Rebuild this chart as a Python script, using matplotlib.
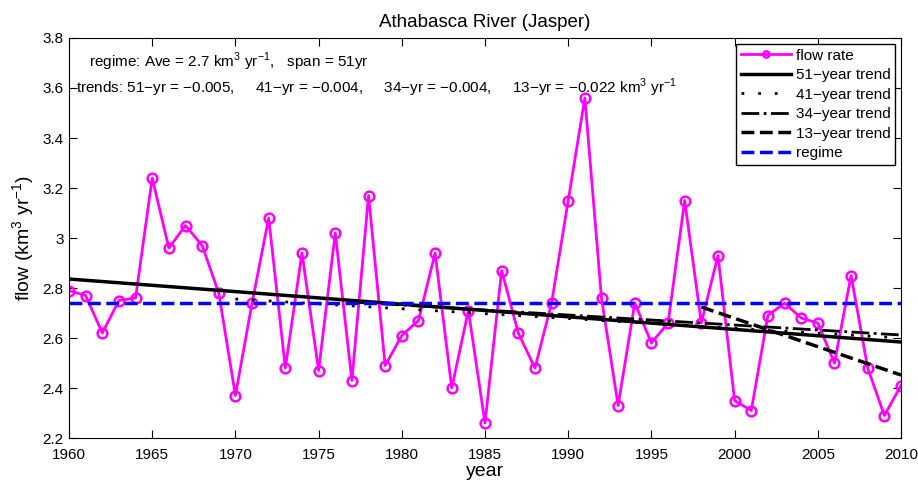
import numpy as np
import matplotlib.pyplot as plt
from matplotlib.ticker import FormatStrFormatter

plt.rcParams['font.family'] = ['Liberation Sans', 'DejaVu Sans']
plt.rcParams['mathtext.fontset'] = 'custom'
plt.rcParams['mathtext.rm'] = 'Liberation Sans'

years = np.arange(1960, 2011)
flow = [2.79, 2.77, 2.62, 2.75, 2.76, 3.24, 2.96, 3.05, 2.97, 2.78,
        2.37, 2.74, 3.08, 2.48, 2.94, 2.47, 3.02, 2.43, 3.17, 2.49,
        2.61, 2.67, 2.94, 2.40, 2.71, 2.26, 2.87, 2.62, 2.48, 2.74,
        3.15, 3.56, 2.76, 2.33, 2.74, 2.58, 2.66, 3.15, 2.66, 2.93,
        2.35, 2.31, 2.69, 2.74, 2.68, 2.66, 2.50, 2.85, 2.48, 2.29,
        2.41]
regime = 2.74

# trend lines (51, 41, 34, 13 yr)
trend_x0 = [1960, 1970, 1977, 1998]
trend_x1 = [2010, 2010, 2010, 2010]
trend_y0 = [2.836, 2.756, 2.744, 2.724]
trend_y1 = [2.584, 2.600, 2.612, 2.452]
trend_labels = ['51\u2212year trend', '41\u2212year trend',
                '34\u2212year trend', '13\u2212year trend']

fig = plt.figure(figsize=(9.18, 4.84), dpi=100)
ax = fig.add_axes([0.0752, 0.095, 0.9063, 0.8265])

ax.plot(years, flow, '-o', color='magenta', lw=2, ms=7, mfc='none',
        mew=1.8, label='flow rate')

styles = [dict(ls='-', lw=2.5),
          dict(ls=(0, (1, 5)), lw=2, dash_capstyle='butt'),
          dict(ls='-.', lw=2),
          dict(ls='--', lw=2.5)]
for x0, x1, y0, y1, lab, st in zip(trend_x0, trend_x1, trend_y0, trend_y1,
                                   trend_labels, styles):
    ax.plot([x0, x1], [y0, y1], color='k', label=lab, **st)

ax.plot([years[0], years[-1]], [regime, regime], '--', color='#0000ff',
        lw=2.5, label='regime')

ax.set_xlim(1960, 2010)
ax.set_ylim(2.2, 3.8)
ax.set_xticks(np.arange(1960, 2011, 5))
ax.set_yticks(np.arange(2.2, 3.81, 0.2))
ax.yaxis.set_major_formatter(FormatStrFormatter('%g'))
ax.tick_params(direction='in', top=True, right=True, labelsize=11, length=6)
ax.tick_params(axis='x', pad=7)
ax.tick_params(axis='y', pad=4)
ax.set_xlabel('year', fontsize=14, labelpad=1)
ax.set_ylabel('flow (km$^3$ yr$^{-1}$)', fontsize=14, labelpad=4)
ax.set_title('Athabasca River (Jasper)', fontsize=13.5, pad=8)

ax.text(1961.2, 3.705, 'regime: Ave = 2.7 km$^3$ yr$^{-1}$,   span = 51yr',
        fontsize=11, va='center')
ax.text(1960.4, 3.6, 'trends: 51\u2212yr = \u22120.005,     41\u2212yr = \u22120.004,'
        '     34\u2212yr = \u22120.004,     13\u2212yr = \u22120.022 km$^3$ yr$^{-1}$',
        fontsize=11, va='center')

leg = ax.legend(loc='upper right', fontsize=11, fancybox=False,
                edgecolor='k', framealpha=1, borderaxespad=0.4,
                handlelength=3.3, labelspacing=0.36, borderpad=0.3,
                handletextpad=0.3)
leg.get_frame().set_linewidth(1)
leg.legend_handles[0].set_markersize(4.5)

fig.savefig('out.png', dpi=100)
